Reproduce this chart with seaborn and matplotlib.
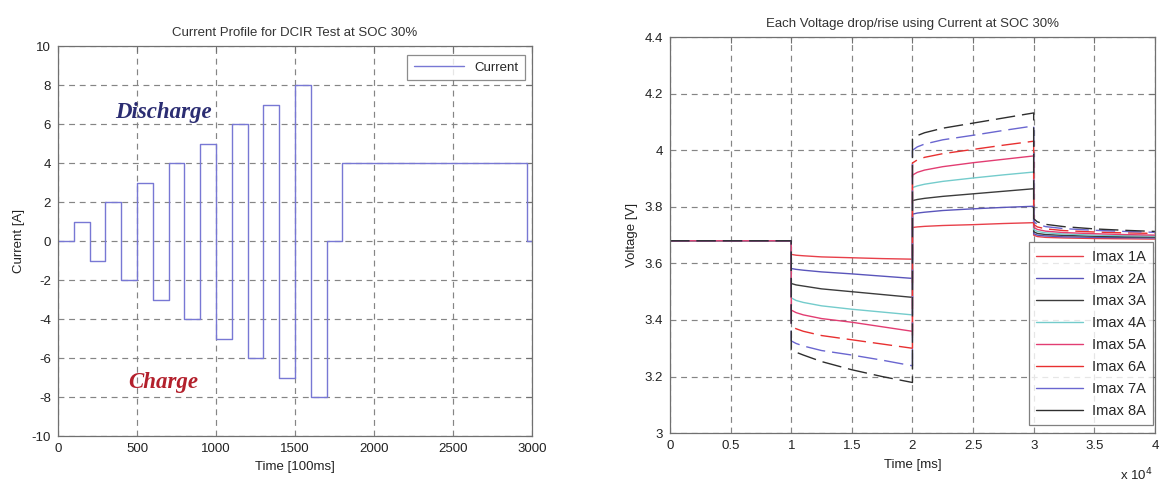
import numpy as np
import pandas as pd
import matplotlib
matplotlib.use("Agg")
import matplotlib.pyplot as plt
from matplotlib.lines import Line2D
from matplotlib.ticker import FixedLocator, FuncFormatter
import seaborn as sns

# ---------------- data: left chart (current profile) ----------------
step_time = [0, 100, 200, 300, 400, 500, 600, 700, 800, 900, 1000, 1100, 1200,
             1300, 1400, 1500, 1600, 1700, 1800, 2970, 3000]
step_current = [0, 1, -1, 2, -2, 3, -3, 4, -4, 5, -5, 6, -6, 7, -7, 8, -8, 0, 4, 0, 0]

# ---------------- data: right chart (voltage response) ----------------
series_names = ["Imax 1A", "Imax 2A", "Imax 3A", "Imax 4A",
                "Imax 5A", "Imax 6A", "Imax 7A", "Imax 8A"]
rest_time = [0, 10000]
rest_voltage = 3.68
discharge_time = [10000, 10400, 11000, 12500, 15000, 17500, 20000]
discharge_v = [
    [3.632, 3.629, 3.627, 3.623, 3.620, 3.617, 3.615],
    [3.582, 3.579, 3.576, 3.570, 3.563, 3.555, 3.547],
    [3.529, 3.524, 3.520, 3.510, 3.500, 3.490, 3.480],
    [3.478, 3.469, 3.462, 3.450, 3.438, 3.428, 3.418],
    [3.435, 3.426, 3.418, 3.405, 3.392, 3.376, 3.360],
    [3.378, 3.369, 3.360, 3.345, 3.330, 3.315, 3.300],
    [3.326, 3.317, 3.308, 3.292, 3.276, 3.258, 3.238],
    [3.294, 3.286, 3.276, 3.253, 3.224, 3.200, 3.179],
]
charge_time = [20000, 20400, 21000, 22500, 25000, 27500, 30000]
charge_v = [
    [3.727, 3.729, 3.731, 3.734, 3.737, 3.741, 3.744],
    [3.774, 3.778, 3.781, 3.787, 3.793, 3.798, 3.802],
    [3.822, 3.826, 3.830, 3.837, 3.846, 3.855, 3.864],
    [3.868, 3.874, 3.880, 3.890, 3.902, 3.913, 3.923],
    [3.912, 3.922, 3.930, 3.942, 3.956, 3.968, 3.980],
    [3.955, 3.966, 3.975, 3.988, 4.003, 4.018, 4.032],
    [4.000, 4.012, 4.022, 4.037, 4.053, 4.070, 4.086],
    [4.040, 4.052, 4.062, 4.078, 4.096, 4.114, 4.132],
]
relax_time = [30000, 30300, 31000, 32500, 35000, 37500, 40000]
relax_v = [
    [3.700, 3.695, 3.692, 3.690, 3.688, 3.687, 3.686],
    [3.705, 3.700, 3.697, 3.694, 3.692, 3.691, 3.690],
    [3.712, 3.706, 3.702, 3.699, 3.696, 3.694, 3.693],
    [3.720, 3.713, 3.708, 3.704, 3.700, 3.698, 3.697],
    [3.728, 3.720, 3.714, 3.709, 3.705, 3.702, 3.700],
    [3.738, 3.729, 3.722, 3.716, 3.711, 3.708, 3.706],
    [3.748, 3.738, 3.730, 3.723, 3.717, 3.713, 3.710],
    [3.758, 3.747, 3.738, 3.730, 3.722, 3.717, 3.713],
]
series_colors = ["#e8404a", "#5a55bb", "#3c3c3c", "#74cccc",
                 "#e23d72", "#e83030", "#6a66d0", "#2e2e2e"]
series_dashed = [False, False, False, False, False, True, True, True]

# ---------------- style ----------------
sns.set_theme(style="white")
plt.rcParams["font.family"] = ["Liberation Sans", "DejaVu Sans"]
plt.rcParams["axes.unicode_minus"] = False
plt.rcParams["axes.edgecolor"] = "#707070"
plt.rcParams["axes.linewidth"] = 0.9

fig = plt.figure(figsize=(11.6, 4.95), dpi=100)
fig.patch.set_facecolor("white")
ax1 = fig.add_axes([0.050, 0.119, 0.4086, 0.788])
ax2 = fig.add_axes([0.5776, 0.125, 0.418, 0.800])

grid_kw = dict(color="#858585", linestyle=(0, (5, 4)), linewidth=0.85)


def style_axes(ax):
    ax.grid(True, **grid_kw)
    ax.set_axisbelow(True)
    ax.tick_params(direction="in", length=4, width=0.8, colors="#707070",
                   labelcolor="#222222", labelsize=9.5, pad=5,
                   top=True, right=True)
    for s in ax.spines.values():
        s.set_visible(True)
        s.set_color("#707070")


# ---------------- left chart ----------------
df_cur = pd.DataFrame({"Time": step_time, "Current": step_current})
sns.lineplot(data=df_cur, x="Time", y="Current", ax=ax1, color="#7878d4",
             linewidth=1.0, drawstyle="steps-post", estimator=None, sort=False)
ax1.set_xlim(0, 3000)
ax1.set_ylim(-10, 10)
ax1.xaxis.set_major_locator(FixedLocator(np.arange(0, 3001, 500)))
ax1.yaxis.set_major_locator(FixedLocator(np.arange(-10, 11, 2)))
style_axes(ax1)
ax1.set_title("Current Profile for DCIR Test at SOC 30%", fontsize=9.5,
              color="#333333", pad=7)
ax1.set_xlabel("Time [100ms]", fontsize=9.5, color="#222222", labelpad=4)
ax1.set_ylabel("Current [A]", fontsize=9.5, color="#222222", labelpad=5)
leg1 = ax1.legend([Line2D([], [], color="#7878d4", lw=1.0)], ["Current"],
                  loc="upper right", fontsize=9.5, handlelength=3.8,
                  frameon=True, fancybox=False, borderpad=0.5,
                  borderaxespad=0, bbox_to_anchor=(0.986, 0.977))
leg1.get_frame().set_edgecolor("#707070")
leg1.get_frame().set_linewidth(0.9)

ax1.text(668, 6.6, "Discharge", fontsize=16.5, fontweight="bold", fontstyle="italic",
         family=["Liberation Serif", "DejaVu Serif"], color="#2b2d72",
         ha="center", va="center")
ax1.text(665, -7.25, "Charge", fontsize=16.5, fontweight="bold", fontstyle="italic",
         family=["Liberation Serif", "DejaVu Serif"], color="#b3202c",
         ha="center", va="center")

# ---------------- right chart ----------------
rows = []
for i, name in enumerate(series_names):
    times = rest_time + discharge_time + charge_time + relax_time
    volts = ([rest_voltage, rest_voltage] + discharge_v[i] + charge_v[i] + relax_v[i])
    for order, (t, v) in enumerate(zip(times, volts)):
        rows.append({"Series": name, "Time": t, "Voltage": v, "order": order})
df_v = pd.DataFrame(rows)

dash_map = {n: ((14, 5) if d else "") for n, d in zip(series_names, series_dashed)}
sns.lineplot(data=df_v, x="Time", y="Voltage", hue="Series", style="Series",
             hue_order=series_names, style_order=series_names,
             palette=dict(zip(series_names, series_colors)), dashes=dash_map,
             ax=ax2, linewidth=1.0, estimator=None, sort=False, legend=False)
ax2.set_xlim(0, 40000)
ax2.set_ylim(3.0, 4.4)
ax2.xaxis.set_major_locator(FixedLocator(np.arange(0, 40001, 5000)))
ax2.xaxis.set_major_formatter(FuncFormatter(lambda v, p: f"{v / 1e4:g}"))
ax2.yaxis.set_major_locator(FixedLocator(np.round(np.arange(3.0, 4.41, 0.2), 1)))
ax2.yaxis.set_major_formatter(FuncFormatter(lambda v, p: f"{v:g}"))
style_axes(ax2)
ax2.set_title("Each Voltage drop/rise using Current at SOC 30%", fontsize=9.5,
              color="#333333", pad=7)
ax2.set_xlabel("Time [ms]", fontsize=9.5, color="#222222", labelpad=5)
ax2.set_ylabel("Voltage [V]", fontsize=9.5, color="#222222", labelpad=5)
ax2.text(0.995, -0.085, r"x 10$^{4}$", transform=ax2.transAxes, fontsize=9.5,
         color="#222222", ha="right", va="top")

handles = [Line2D([], [], color=c, lw=1.0) for c in series_colors]
leg2 = ax2.legend(handles, series_names, loc="lower right", fontsize=10.5,
                  handlelength=3.2, frameon=True, fancybox=False,
                  borderpad=0.5, labelspacing=0.55, handletextpad=0.6,
                  borderaxespad=0, bbox_to_anchor=(0.996, 0.02))
leg2.get_frame().set_edgecolor("#606060")
leg2.get_frame().set_linewidth(0.9)

fig.savefig("out.png", dpi=100, facecolor="white")
